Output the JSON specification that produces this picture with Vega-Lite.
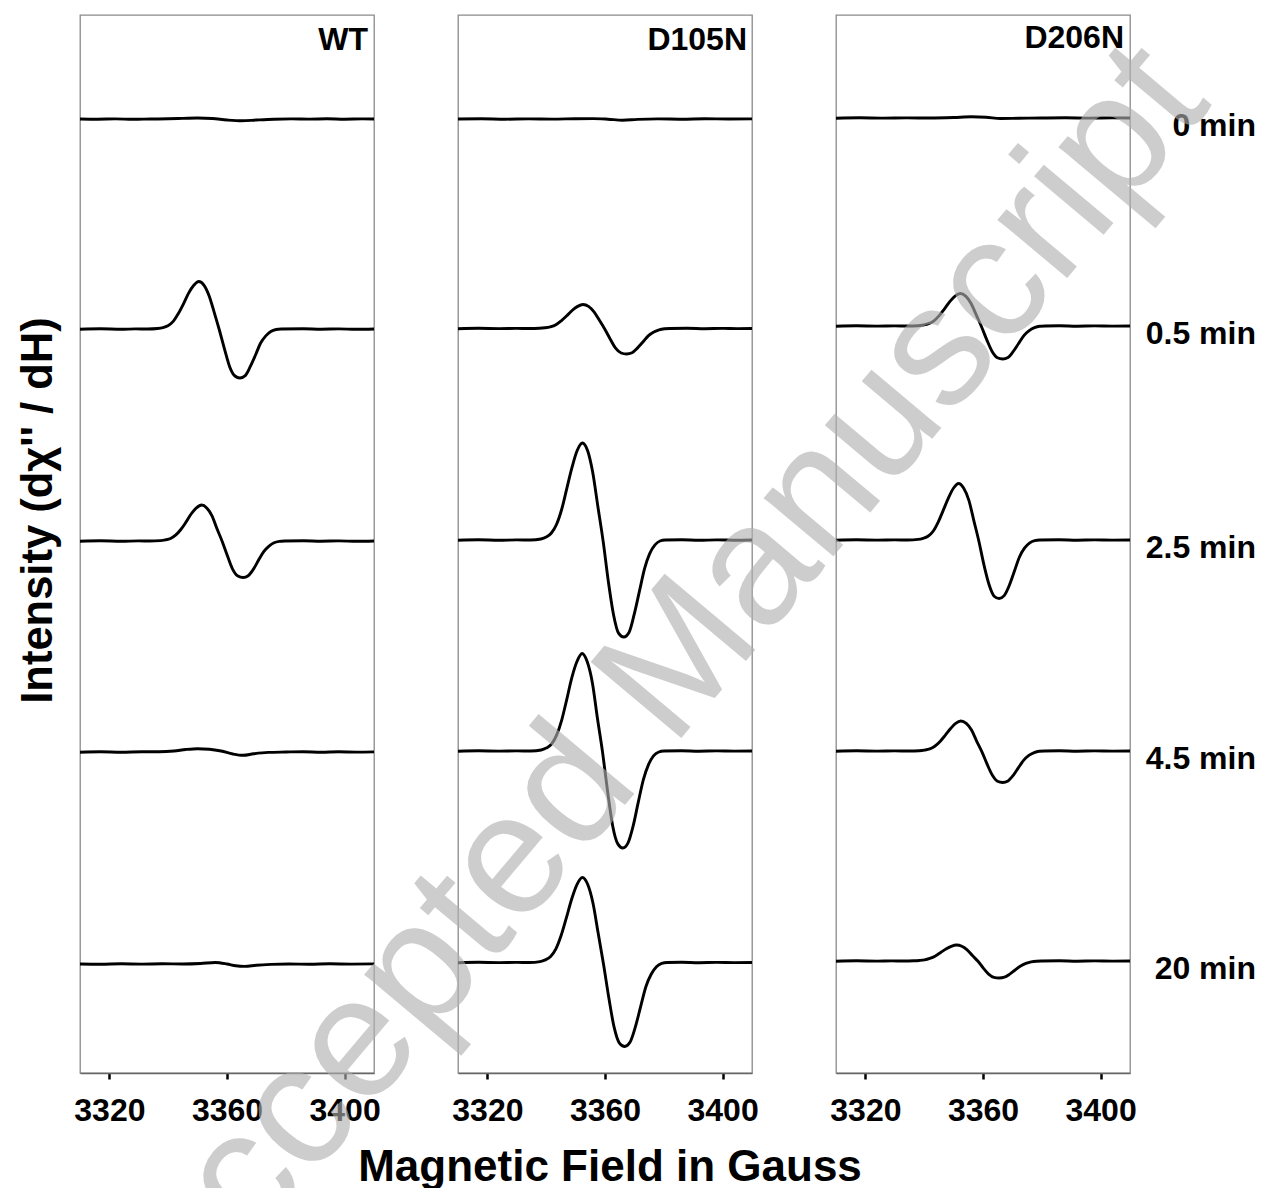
{
"$schema": "https://vega.github.io/schema/vega-lite/v6.json",
"padding": {"left": 15, "top": 14, "right": 5, "bottom": 5},
"bounds": "flush",
"spacing": 84,
"config": {
  "font": "Liberation Sans",
  "view": {"stroke": "#8a8a8a", "strokeWidth": 1.3},
  "axis": {"grid": false}
},
"datasets": {"spectra": [
{"sample":"WT","time":"0 min","field":3310,"intensity":95.40},{"sample":"WT","time":"0 min","field":3316,"intensity":95.38},{"sample":"WT","time":"0 min","field":3322,"intensity":95.41},{"sample":"WT","time":"0 min","field":3328,"intensity":95.37},{"sample":"WT","time":"0 min","field":3334,"intensity":95.40},{"sample":"WT","time":"0 min","field":3340,"intensity":95.42},{"sample":"WT","time":"0 min","field":3345,"intensity":95.46},{"sample":"WT","time":"0 min","field":3350,"intensity":95.50},{"sample":"WT","time":"0 min","field":3355,"intensity":95.45},{"sample":"WT","time":"0 min","field":3360,"intensity":95.30},{"sample":"WT","time":"0 min","field":3365,"intensity":95.22},{"sample":"WT","time":"0 min","field":3370,"intensity":95.30},{"sample":"WT","time":"0 min","field":3376,"intensity":95.38},{"sample":"WT","time":"0 min","field":3382,"intensity":95.41},{"sample":"WT","time":"0 min","field":3388,"intensity":95.39},{"sample":"WT","time":"0 min","field":3394,"intensity":95.42},{"sample":"WT","time":"0 min","field":3400,"intensity":95.38},{"sample":"WT","time":"0 min","field":3406,"intensity":95.41},{"sample":"WT","time":"0 min","field":3410,"intensity":95.40},
{"sample":"WT","time":"0.5 min","field":3310,"intensity":74.38},{"sample":"WT","time":"0.5 min","field":3317,"intensity":74.42},{"sample":"WT","time":"0.5 min","field":3324,"intensity":74.37},{"sample":"WT","time":"0.5 min","field":3329,"intensity":74.41},{"sample":"WT","time":"0.5 min","field":3332.9,"intensity":74.40},{"sample":"WT","time":"0.5 min","field":3336.4,"intensity":74.45},{"sample":"WT","time":"0.5 min","field":3338.2,"intensity":74.54},{"sample":"WT","time":"0.5 min","field":3339.9,"intensity":74.73},{"sample":"WT","time":"0.5 min","field":3341.7,"intensity":75.16},{"sample":"WT","time":"0.5 min","field":3343.4,"intensity":75.92},{"sample":"WT","time":"0.5 min","field":3345.2,"intensity":76.92},{"sample":"WT","time":"0.5 min","field":3346.9,"intensity":77.96},{"sample":"WT","time":"0.5 min","field":3348.7,"intensity":78.77},{"sample":"WT","time":"0.5 min","field":3350.4,"intensity":79.15},{"sample":"WT","time":"0.5 min","field":3352.2,"intensity":78.77},{"sample":"WT","time":"0.5 min","field":3353.9,"intensity":77.73},{"sample":"WT","time":"0.5 min","field":3355.7,"intensity":76.02},{"sample":"WT","time":"0.5 min","field":3357.4,"intensity":74.30},{"sample":"WT","time":"0.5 min","field":3359.2,"intensity":72.34},{"sample":"WT","time":"0.5 min","field":3360.9,"intensity":70.63},{"sample":"WT","time":"0.5 min","field":3362.7,"intensity":69.70},{"sample":"WT","time":"0.5 min","field":3364.4,"intensity":69.50},{"sample":"WT","time":"0.5 min","field":3366.2,"intensity":69.74},{"sample":"WT","time":"0.5 min","field":3367.9,"intensity":70.63},{"sample":"WT","time":"0.5 min","field":3369.7,"intensity":71.80},{"sample":"WT","time":"0.5 min","field":3371.4,"intensity":72.98},{"sample":"WT","time":"0.5 min","field":3373.2,"intensity":73.71},{"sample":"WT","time":"0.5 min","field":3374.9,"intensity":74.15},{"sample":"WT","time":"0.5 min","field":3376.7,"intensity":74.35},{"sample":"WT","time":"0.5 min","field":3378.4,"intensity":74.40},{"sample":"WT","time":"0.5 min","field":3386,"intensity":74.42},{"sample":"WT","time":"0.5 min","field":3392,"intensity":74.38},{"sample":"WT","time":"0.5 min","field":3398,"intensity":74.41},{"sample":"WT","time":"0.5 min","field":3404,"intensity":74.37},{"sample":"WT","time":"0.5 min","field":3410,"intensity":74.40},
{"sample":"WT","time":"2.5 min","field":3310,"intensity":53.18},{"sample":"WT","time":"2.5 min","field":3317,"intensity":53.22},{"sample":"WT","time":"2.5 min","field":3324,"intensity":53.17},{"sample":"WT","time":"2.5 min","field":3330,"intensity":53.21},{"sample":"WT","time":"2.5 min","field":3333.7,"intensity":53.20},{"sample":"WT","time":"2.5 min","field":3337.3,"intensity":53.24},{"sample":"WT","time":"2.5 min","field":3339.0,"intensity":53.31},{"sample":"WT","time":"2.5 min","field":3340.8,"intensity":53.45},{"sample":"WT","time":"2.5 min","field":3342.5,"intensity":53.78},{"sample":"WT","time":"2.5 min","field":3344.3,"intensity":54.35},{"sample":"WT","time":"2.5 min","field":3346.1,"intensity":55.11},{"sample":"WT","time":"2.5 min","field":3347.8,"intensity":55.90},{"sample":"WT","time":"2.5 min","field":3349.6,"intensity":56.51},{"sample":"WT","time":"2.5 min","field":3351.4,"intensity":56.80},{"sample":"WT","time":"2.5 min","field":3353.1,"intensity":56.51},{"sample":"WT","time":"2.5 min","field":3354.9,"intensity":55.72},{"sample":"WT","time":"2.5 min","field":3356.6,"intensity":54.42},{"sample":"WT","time":"2.5 min","field":3358.4,"intensity":53.13},{"sample":"WT","time":"2.5 min","field":3360.2,"intensity":51.67},{"sample":"WT","time":"2.5 min","field":3361.9,"intensity":50.39},{"sample":"WT","time":"2.5 min","field":3363.7,"intensity":49.70},{"sample":"WT","time":"2.5 min","field":3365.5,"intensity":49.55},{"sample":"WT","time":"2.5 min","field":3367.2,"intensity":49.73},{"sample":"WT","time":"2.5 min","field":3369.0,"intensity":50.39},{"sample":"WT","time":"2.5 min","field":3370.7,"intensity":51.27},{"sample":"WT","time":"2.5 min","field":3372.5,"intensity":52.14},{"sample":"WT","time":"2.5 min","field":3374.3,"intensity":52.69},{"sample":"WT","time":"2.5 min","field":3376.0,"intensity":53.02},{"sample":"WT","time":"2.5 min","field":3377.8,"intensity":53.16},{"sample":"WT","time":"2.5 min","field":3379.6,"intensity":53.20},{"sample":"WT","time":"2.5 min","field":3386,"intensity":53.22},{"sample":"WT","time":"2.5 min","field":3392,"intensity":53.18},{"sample":"WT","time":"2.5 min","field":3398,"intensity":53.21},{"sample":"WT","time":"2.5 min","field":3404,"intensity":53.17},{"sample":"WT","time":"2.5 min","field":3410,"intensity":53.20},
{"sample":"WT","time":"4.5 min","field":3310,"intensity":32.08},{"sample":"WT","time":"4.5 min","field":3317,"intensity":32.12},{"sample":"WT","time":"4.5 min","field":3324,"intensity":32.07},{"sample":"WT","time":"4.5 min","field":3331,"intensity":32.13},{"sample":"WT","time":"4.5 min","field":3337,"intensity":32.12},{"sample":"WT","time":"4.5 min","field":3342,"intensity":32.20},{"sample":"WT","time":"4.5 min","field":3346,"intensity":32.35},{"sample":"WT","time":"4.5 min","field":3350,"intensity":32.43},{"sample":"WT","time":"4.5 min","field":3354,"intensity":32.38},{"sample":"WT","time":"4.5 min","field":3358,"intensity":32.20},{"sample":"WT","time":"4.5 min","field":3362,"intensity":31.90},{"sample":"WT","time":"4.5 min","field":3365.5,"intensity":31.77},{"sample":"WT","time":"4.5 min","field":3369,"intensity":31.92},{"sample":"WT","time":"4.5 min","field":3374,"intensity":32.06},{"sample":"WT","time":"4.5 min","field":3380,"intensity":32.10},{"sample":"WT","time":"4.5 min","field":3386,"intensity":32.13},{"sample":"WT","time":"4.5 min","field":3392,"intensity":32.08},{"sample":"WT","time":"4.5 min","field":3398,"intensity":32.12},{"sample":"WT","time":"4.5 min","field":3404,"intensity":32.09},{"sample":"WT","time":"4.5 min","field":3410,"intensity":32.11},
{"sample":"WT","time":"20 min","field":3310,"intensity":10.90},{"sample":"WT","time":"20 min","field":3317,"intensity":10.88},{"sample":"WT","time":"20 min","field":3324,"intensity":10.92},{"sample":"WT","time":"20 min","field":3331,"intensity":10.89},{"sample":"WT","time":"20 min","field":3338,"intensity":10.92},{"sample":"WT","time":"20 min","field":3345,"intensity":10.90},{"sample":"WT","time":"20 min","field":3351,"intensity":10.95},{"sample":"WT","time":"20 min","field":3356,"intensity":11.05},{"sample":"WT","time":"20 min","field":3360,"intensity":10.90},{"sample":"WT","time":"20 min","field":3363,"intensity":10.72},{"sample":"WT","time":"20 min","field":3366,"intensity":10.66},{"sample":"WT","time":"20 min","field":3370,"intensity":10.78},{"sample":"WT","time":"20 min","field":3375,"intensity":10.86},{"sample":"WT","time":"20 min","field":3381,"intensity":10.90},{"sample":"WT","time":"20 min","field":3388,"intensity":10.88},{"sample":"WT","time":"20 min","field":3395,"intensity":10.92},{"sample":"WT","time":"20 min","field":3402,"intensity":10.89},{"sample":"WT","time":"20 min","field":3410,"intensity":10.91},
{"sample":"D105N","time":"0 min","field":3310,"intensity":95.40},{"sample":"D105N","time":"0 min","field":3318,"intensity":95.42},{"sample":"D105N","time":"0 min","field":3326,"intensity":95.38},{"sample":"D105N","time":"0 min","field":3334,"intensity":95.41},{"sample":"D105N","time":"0 min","field":3342,"intensity":95.39},{"sample":"D105N","time":"0 min","field":3350,"intensity":95.43},{"sample":"D105N","time":"0 min","field":3356,"intensity":95.44},{"sample":"D105N","time":"0 min","field":3361,"intensity":95.38},{"sample":"D105N","time":"0 min","field":3366,"intensity":95.28},{"sample":"D105N","time":"0 min","field":3371,"intensity":95.36},{"sample":"D105N","time":"0 min","field":3378,"intensity":95.41},{"sample":"D105N","time":"0 min","field":3386,"intensity":95.38},{"sample":"D105N","time":"0 min","field":3394,"intensity":95.42},{"sample":"D105N","time":"0 min","field":3402,"intensity":95.40},{"sample":"D105N","time":"0 min","field":3410,"intensity":95.41},
{"sample":"D105N","time":"0.5 min","field":3310,"intensity":74.43},{"sample":"D105N","time":"0.5 min","field":3317,"intensity":74.47},{"sample":"D105N","time":"0.5 min","field":3324,"intensity":74.44},{"sample":"D105N","time":"0.5 min","field":3330,"intensity":74.46},{"sample":"D105N","time":"0.5 min","field":3334.0,"intensity":74.45},{"sample":"D105N","time":"0.5 min","field":3337.7,"intensity":74.47},{"sample":"D105N","time":"0.5 min","field":3339.6,"intensity":74.52},{"sample":"D105N","time":"0.5 min","field":3341.4,"intensity":74.62},{"sample":"D105N","time":"0.5 min","field":3343.3,"intensity":74.83},{"sample":"D105N","time":"0.5 min","field":3345.1,"intensity":75.22},{"sample":"D105N","time":"0.5 min","field":3347.0,"intensity":75.72},{"sample":"D105N","time":"0.5 min","field":3348.8,"intensity":76.25},{"sample":"D105N","time":"0.5 min","field":3350.7,"intensity":76.66},{"sample":"D105N","time":"0.5 min","field":3352.5,"intensity":76.85},{"sample":"D105N","time":"0.5 min","field":3354.4,"intensity":76.66},{"sample":"D105N","time":"0.5 min","field":3356.2,"intensity":76.13},{"sample":"D105N","time":"0.5 min","field":3358.1,"intensity":75.27},{"sample":"D105N","time":"0.5 min","field":3359.9,"intensity":74.40},{"sample":"D105N","time":"0.5 min","field":3361.8,"intensity":73.38},{"sample":"D105N","time":"0.5 min","field":3363.6,"intensity":72.49},{"sample":"D105N","time":"0.5 min","field":3365.5,"intensity":72.00},{"sample":"D105N","time":"0.5 min","field":3367.3,"intensity":71.90},{"sample":"D105N","time":"0.5 min","field":3369.2,"intensity":72.03},{"sample":"D105N","time":"0.5 min","field":3371.0,"intensity":72.49},{"sample":"D105N","time":"0.5 min","field":3372.9,"intensity":73.10},{"sample":"D105N","time":"0.5 min","field":3374.7,"intensity":73.71},{"sample":"D105N","time":"0.5 min","field":3376.6,"intensity":74.09},{"sample":"D105N","time":"0.5 min","field":3378.4,"intensity":74.32},{"sample":"D105N","time":"0.5 min","field":3380.3,"intensity":74.42},{"sample":"D105N","time":"0.5 min","field":3382.1,"intensity":74.45},{"sample":"D105N","time":"0.5 min","field":3388,"intensity":74.47},{"sample":"D105N","time":"0.5 min","field":3394,"intensity":74.43},{"sample":"D105N","time":"0.5 min","field":3400,"intensity":74.46},{"sample":"D105N","time":"0.5 min","field":3405,"intensity":74.44},{"sample":"D105N","time":"0.5 min","field":3410,"intensity":74.45},
{"sample":"D105N","time":"2.5 min","field":3310,"intensity":53.28},{"sample":"D105N","time":"2.5 min","field":3317,"intensity":53.32},{"sample":"D105N","time":"2.5 min","field":3324,"intensity":53.27},{"sample":"D105N","time":"2.5 min","field":3330,"intensity":53.31},{"sample":"D105N","time":"2.5 min","field":3334.7,"intensity":53.30},{"sample":"D105N","time":"2.5 min","field":3338.2,"intensity":53.40},{"sample":"D105N","time":"2.5 min","field":3340.0,"intensity":53.59},{"sample":"D105N","time":"2.5 min","field":3341.7,"intensity":53.98},{"sample":"D105N","time":"2.5 min","field":3343.5,"intensity":54.85},{"sample":"D105N","time":"2.5 min","field":3345.3,"intensity":56.40},{"sample":"D105N","time":"2.5 min","field":3347.0,"intensity":58.44},{"sample":"D105N","time":"2.5 min","field":3348.8,"intensity":60.58},{"sample":"D105N","time":"2.5 min","field":3350.5,"intensity":62.22},{"sample":"D105N","time":"2.5 min","field":3352.3,"intensity":63.00},{"sample":"D105N","time":"2.5 min","field":3354.1,"intensity":62.22},{"sample":"D105N","time":"2.5 min","field":3355.8,"intensity":60.09},{"sample":"D105N","time":"2.5 min","field":3357.6,"intensity":56.60},{"sample":"D105N","time":"2.5 min","field":3359.4,"intensity":53.11},{"sample":"D105N","time":"2.5 min","field":3361.1,"intensity":49.23},{"sample":"D105N","time":"2.5 min","field":3362.9,"intensity":45.83},{"sample":"D105N","time":"2.5 min","field":3364.6,"intensity":43.99},{"sample":"D105N","time":"2.5 min","field":3366.4,"intensity":43.60},{"sample":"D105N","time":"2.5 min","field":3368.2,"intensity":44.08},{"sample":"D105N","time":"2.5 min","field":3369.9,"intensity":45.83},{"sample":"D105N","time":"2.5 min","field":3371.7,"intensity":48.16},{"sample":"D105N","time":"2.5 min","field":3373.5,"intensity":50.49},{"sample":"D105N","time":"2.5 min","field":3375.2,"intensity":51.94},{"sample":"D105N","time":"2.5 min","field":3377.0,"intensity":52.81},{"sample":"D105N","time":"2.5 min","field":3378.7,"intensity":53.20},{"sample":"D105N","time":"2.5 min","field":3380.5,"intensity":53.30},{"sample":"D105N","time":"2.5 min","field":3386,"intensity":53.32},{"sample":"D105N","time":"2.5 min","field":3392,"intensity":53.27},{"sample":"D105N","time":"2.5 min","field":3398,"intensity":53.31},{"sample":"D105N","time":"2.5 min","field":3404,"intensity":53.28},{"sample":"D105N","time":"2.5 min","field":3410,"intensity":53.30},
{"sample":"D105N","time":"4.5 min","field":3310,"intensity":32.18},{"sample":"D105N","time":"4.5 min","field":3317,"intensity":32.22},{"sample":"D105N","time":"4.5 min","field":3324,"intensity":32.19},{"sample":"D105N","time":"4.5 min","field":3330,"intensity":32.21},{"sample":"D105N","time":"4.5 min","field":3334.8,"intensity":32.20},{"sample":"D105N","time":"4.5 min","field":3338.3,"intensity":32.30},{"sample":"D105N","time":"4.5 min","field":3340.0,"intensity":32.49},{"sample":"D105N","time":"4.5 min","field":3341.8,"intensity":32.88},{"sample":"D105N","time":"4.5 min","field":3343.5,"intensity":33.76},{"sample":"D105N","time":"4.5 min","field":3345.3,"intensity":35.32},{"sample":"D105N","time":"4.5 min","field":3347.0,"intensity":37.37},{"sample":"D105N","time":"4.5 min","field":3348.7,"intensity":39.51},{"sample":"D105N","time":"4.5 min","field":3350.5,"intensity":41.17},{"sample":"D105N","time":"4.5 min","field":3352.2,"intensity":41.95},{"sample":"D105N","time":"4.5 min","field":3353.9,"intensity":41.17},{"sample":"D105N","time":"4.5 min","field":3355.7,"intensity":39.03},{"sample":"D105N","time":"4.5 min","field":3357.4,"intensity":35.52},{"sample":"D105N","time":"4.5 min","field":3359.2,"intensity":32.01},{"sample":"D105N","time":"4.5 min","field":3360.9,"intensity":28.13},{"sample":"D105N","time":"4.5 min","field":3362.6,"intensity":24.73},{"sample":"D105N","time":"4.5 min","field":3364.4,"intensity":22.89},{"sample":"D105N","time":"4.5 min","field":3366.1,"intensity":22.50},{"sample":"D105N","time":"4.5 min","field":3367.8,"intensity":22.98},{"sample":"D105N","time":"4.5 min","field":3369.6,"intensity":24.73},{"sample":"D105N","time":"4.5 min","field":3371.3,"intensity":27.06},{"sample":"D105N","time":"4.5 min","field":3373.1,"intensity":29.39},{"sample":"D105N","time":"4.5 min","field":3374.8,"intensity":30.84},{"sample":"D105N","time":"4.5 min","field":3376.5,"intensity":31.71},{"sample":"D105N","time":"4.5 min","field":3378.3,"intensity":32.10},{"sample":"D105N","time":"4.5 min","field":3380.0,"intensity":32.20},{"sample":"D105N","time":"4.5 min","field":3386,"intensity":32.22},{"sample":"D105N","time":"4.5 min","field":3392,"intensity":32.18},{"sample":"D105N","time":"4.5 min","field":3398,"intensity":32.21},{"sample":"D105N","time":"4.5 min","field":3404,"intensity":32.19},{"sample":"D105N","time":"4.5 min","field":3410,"intensity":32.20},
{"sample":"D105N","time":"20 min","field":3310,"intensity":11.03},{"sample":"D105N","time":"20 min","field":3317,"intensity":11.07},{"sample":"D105N","time":"20 min","field":3324,"intensity":11.04},{"sample":"D105N","time":"20 min","field":3330,"intensity":11.06},{"sample":"D105N","time":"20 min","field":3334.3,"intensity":11.05},{"sample":"D105N","time":"20 min","field":3337.9,"intensity":11.14},{"sample":"D105N","time":"20 min","field":3339.7,"intensity":11.31},{"sample":"D105N","time":"20 min","field":3341.5,"intensity":11.65},{"sample":"D105N","time":"20 min","field":3343.3,"intensity":12.41},{"sample":"D105N","time":"20 min","field":3345.1,"intensity":13.77},{"sample":"D105N","time":"20 min","field":3346.9,"intensity":15.56},{"sample":"D105N","time":"20 min","field":3348.7,"intensity":17.43},{"sample":"D105N","time":"20 min","field":3350.5,"intensity":18.87},{"sample":"D105N","time":"20 min","field":3352.3,"intensity":19.55},{"sample":"D105N","time":"20 min","field":3354.1,"intensity":18.87},{"sample":"D105N","time":"20 min","field":3355.9,"intensity":17.00},{"sample":"D105N","time":"20 min","field":3357.7,"intensity":13.94},{"sample":"D105N","time":"20 min","field":3359.5,"intensity":10.88},{"sample":"D105N","time":"20 min","field":3361.3,"intensity":7.52},{"sample":"D105N","time":"20 min","field":3363.1,"intensity":4.58},{"sample":"D105N","time":"20 min","field":3364.9,"intensity":2.99},{"sample":"D105N","time":"20 min","field":3366.7,"intensity":2.65},{"sample":"D105N","time":"20 min","field":3368.5,"intensity":3.07},{"sample":"D105N","time":"20 min","field":3370.3,"intensity":4.58},{"sample":"D105N","time":"20 min","field":3372.1,"intensity":6.61},{"sample":"D105N","time":"20 min","field":3373.9,"intensity":8.63},{"sample":"D105N","time":"20 min","field":3375.7,"intensity":9.87},{"sample":"D105N","time":"20 min","field":3377.5,"intensity":10.63},{"sample":"D105N","time":"20 min","field":3379.3,"intensity":10.97},{"sample":"D105N","time":"20 min","field":3381.1,"intensity":11.05},{"sample":"D105N","time":"20 min","field":3386,"intensity":11.07},{"sample":"D105N","time":"20 min","field":3392,"intensity":11.03},{"sample":"D105N","time":"20 min","field":3398,"intensity":11.06},{"sample":"D105N","time":"20 min","field":3404,"intensity":11.04},{"sample":"D105N","time":"20 min","field":3410,"intensity":11.05},
{"sample":"D206N","time":"0 min","field":3310,"intensity":95.48},{"sample":"D206N","time":"0 min","field":3318,"intensity":95.52},{"sample":"D206N","time":"0 min","field":3326,"intensity":95.49},{"sample":"D206N","time":"0 min","field":3334,"intensity":95.51},{"sample":"D206N","time":"0 min","field":3342,"intensity":95.50},{"sample":"D206N","time":"0 min","field":3350,"intensity":95.55},{"sample":"D206N","time":"0 min","field":3356,"intensity":95.62},{"sample":"D206N","time":"0 min","field":3361,"intensity":95.58},{"sample":"D206N","time":"0 min","field":3366,"intensity":95.45},{"sample":"D206N","time":"0 min","field":3372,"intensity":95.47},{"sample":"D206N","time":"0 min","field":3380,"intensity":95.50},{"sample":"D206N","time":"0 min","field":3388,"intensity":95.52},{"sample":"D206N","time":"0 min","field":3396,"intensity":95.49},{"sample":"D206N","time":"0 min","field":3404,"intensity":95.51},{"sample":"D206N","time":"0 min","field":3410,"intensity":95.50},
{"sample":"D206N","time":"0.5 min","field":3310,"intensity":74.68},{"sample":"D206N","time":"0.5 min","field":3317,"intensity":74.72},{"sample":"D206N","time":"0.5 min","field":3324,"intensity":74.69},{"sample":"D206N","time":"0.5 min","field":3330,"intensity":74.71},{"sample":"D206N","time":"0.5 min","field":3334.3,"intensity":74.70},{"sample":"D206N","time":"0.5 min","field":3337.9,"intensity":74.73},{"sample":"D206N","time":"0.5 min","field":3339.7,"intensity":74.80},{"sample":"D206N","time":"0.5 min","field":3341.5,"intensity":74.93},{"sample":"D206N","time":"0.5 min","field":3343.3,"intensity":75.22},{"sample":"D206N","time":"0.5 min","field":3345.1,"intensity":75.74},{"sample":"D206N","time":"0.5 min","field":3346.9,"intensity":76.42},{"sample":"D206N","time":"0.5 min","field":3348.7,"intensity":77.14},{"sample":"D206N","time":"0.5 min","field":3350.5,"intensity":77.69},{"sample":"D206N","time":"0.5 min","field":3352.3,"intensity":77.95},{"sample":"D206N","time":"0.5 min","field":3354.1,"intensity":77.69},{"sample":"D206N","time":"0.5 min","field":3355.9,"intensity":76.98},{"sample":"D206N","time":"0.5 min","field":3357.7,"intensity":75.81},{"sample":"D206N","time":"0.5 min","field":3359.5,"intensity":74.63},{"sample":"D206N","time":"0.5 min","field":3361.3,"intensity":73.31},{"sample":"D206N","time":"0.5 min","field":3363.1,"intensity":72.16},{"sample":"D206N","time":"0.5 min","field":3364.9,"intensity":71.53},{"sample":"D206N","time":"0.5 min","field":3366.7,"intensity":71.40},{"sample":"D206N","time":"0.5 min","field":3368.5,"intensity":71.56},{"sample":"D206N","time":"0.5 min","field":3370.3,"intensity":72.16},{"sample":"D206N","time":"0.5 min","field":3372.1,"intensity":72.95},{"sample":"D206N","time":"0.5 min","field":3373.9,"intensity":73.74},{"sample":"D206N","time":"0.5 min","field":3375.7,"intensity":74.24},{"sample":"D206N","time":"0.5 min","field":3377.5,"intensity":74.53},{"sample":"D206N","time":"0.5 min","field":3379.3,"intensity":74.67},{"sample":"D206N","time":"0.5 min","field":3381.1,"intensity":74.70},{"sample":"D206N","time":"0.5 min","field":3386,"intensity":74.72},{"sample":"D206N","time":"0.5 min","field":3392,"intensity":74.68},{"sample":"D206N","time":"0.5 min","field":3398,"intensity":74.71},{"sample":"D206N","time":"0.5 min","field":3404,"intensity":74.69},{"sample":"D206N","time":"0.5 min","field":3410,"intensity":74.70},
{"sample":"D206N","time":"2.5 min","field":3310,"intensity":53.28},{"sample":"D206N","time":"2.5 min","field":3317,"intensity":53.32},{"sample":"D206N","time":"2.5 min","field":3324,"intensity":53.29},{"sample":"D206N","time":"2.5 min","field":3330,"intensity":53.31},{"sample":"D206N","time":"2.5 min","field":3334.5,"intensity":53.30},{"sample":"D206N","time":"2.5 min","field":3337.9,"intensity":53.36},{"sample":"D206N","time":"2.5 min","field":3339.6,"intensity":53.47},{"sample":"D206N","time":"2.5 min","field":3341.4,"intensity":53.70},{"sample":"D206N","time":"2.5 min","field":3343.1,"intensity":54.20},{"sample":"D206N","time":"2.5 min","field":3344.8,"intensity":55.11},{"sample":"D206N","time":"2.5 min","field":3346.5,"intensity":56.29},{"sample":"D206N","time":"2.5 min","field":3348.3,"intensity":57.54},{"sample":"D206N","time":"2.5 min","field":3350.0,"intensity":58.50},{"sample":"D206N","time":"2.5 min","field":3351.7,"intensity":58.95},{"sample":"D206N","time":"2.5 min","field":3353.4,"intensity":58.50},{"sample":"D206N","time":"2.5 min","field":3355.2,"intensity":57.26},{"sample":"D206N","time":"2.5 min","field":3356.9,"intensity":55.22},{"sample":"D206N","time":"2.5 min","field":3358.6,"intensity":53.18},{"sample":"D206N","time":"2.5 min","field":3360.3,"intensity":50.84},{"sample":"D206N","time":"2.5 min","field":3362.1,"intensity":48.80},{"sample":"D206N","time":"2.5 min","field":3363.8,"intensity":47.68},{"sample":"D206N","time":"2.5 min","field":3365.5,"intensity":47.45},{"sample":"D206N","time":"2.5 min","field":3367.2,"intensity":47.74},{"sample":"D206N","time":"2.5 min","field":3369.0,"intensity":48.80},{"sample":"D206N","time":"2.5 min","field":3370.7,"intensity":50.20},{"sample":"D206N","time":"2.5 min","field":3372.4,"intensity":51.60},{"sample":"D206N","time":"2.5 min","field":3374.1,"intensity":52.48},{"sample":"D206N","time":"2.5 min","field":3375.9,"intensity":53.01},{"sample":"D206N","time":"2.5 min","field":3377.6,"intensity":53.24},{"sample":"D206N","time":"2.5 min","field":3379.3,"intensity":53.30},{"sample":"D206N","time":"2.5 min","field":3386,"intensity":53.32},{"sample":"D206N","time":"2.5 min","field":3392,"intensity":53.28},{"sample":"D206N","time":"2.5 min","field":3398,"intensity":53.31},{"sample":"D206N","time":"2.5 min","field":3404,"intensity":53.29},{"sample":"D206N","time":"2.5 min","field":3410,"intensity":53.30},
{"sample":"D206N","time":"4.5 min","field":3310,"intensity":32.18},{"sample":"D206N","time":"4.5 min","field":3317,"intensity":32.22},{"sample":"D206N","time":"4.5 min","field":3324,"intensity":32.19},{"sample":"D206N","time":"4.5 min","field":3330,"intensity":32.21},{"sample":"D206N","time":"4.5 min","field":3334.8,"intensity":32.20},{"sample":"D206N","time":"4.5 min","field":3338.3,"intensity":32.23},{"sample":"D206N","time":"4.5 min","field":3340.1,"intensity":32.29},{"sample":"D206N","time":"4.5 min","field":3341.9,"intensity":32.41},{"sample":"D206N","time":"4.5 min","field":3343.6,"intensity":32.68},{"sample":"D206N","time":"4.5 min","field":3345.4,"intensity":33.16},{"sample":"D206N","time":"4.5 min","field":3347.2,"intensity":33.79},{"sample":"D206N","time":"4.5 min","field":3349.0,"intensity":34.45},{"sample":"D206N","time":"4.5 min","field":3350.7,"intensity":34.96},{"sample":"D206N","time":"4.5 min","field":3352.5,"intensity":35.20},{"sample":"D206N","time":"4.5 min","field":3354.3,"intensity":34.96},{"sample":"D206N","time":"4.5 min","field":3356.1,"intensity":34.30},{"sample":"D206N","time":"4.5 min","field":3357.8,"intensity":33.22},{"sample":"D206N","time":"4.5 min","field":3359.6,"intensity":32.14},{"sample":"D206N","time":"4.5 min","field":3361.4,"intensity":30.88},{"sample":"D206N","time":"4.5 min","field":3363.2,"intensity":29.77},{"sample":"D206N","time":"4.5 min","field":3364.9,"intensity":29.18},{"sample":"D206N","time":"4.5 min","field":3366.7,"intensity":29.05},{"sample":"D206N","time":"4.5 min","field":3368.5,"intensity":29.21},{"sample":"D206N","time":"4.5 min","field":3370.3,"intensity":29.77},{"sample":"D206N","time":"4.5 min","field":3372.0,"intensity":30.51},{"sample":"D206N","time":"4.5 min","field":3373.8,"intensity":31.26},{"sample":"D206N","time":"4.5 min","field":3375.6,"intensity":31.76},{"sample":"D206N","time":"4.5 min","field":3377.4,"intensity":32.04},{"sample":"D206N","time":"4.5 min","field":3379.1,"intensity":32.17},{"sample":"D206N","time":"4.5 min","field":3380.9,"intensity":32.20},{"sample":"D206N","time":"4.5 min","field":3386,"intensity":32.22},{"sample":"D206N","time":"4.5 min","field":3392,"intensity":32.18},{"sample":"D206N","time":"4.5 min","field":3398,"intensity":32.21},{"sample":"D206N","time":"4.5 min","field":3404,"intensity":32.19},{"sample":"D206N","time":"4.5 min","field":3410,"intensity":32.20},
{"sample":"D206N","time":"20 min","field":3310,"intensity":11.18},{"sample":"D206N","time":"20 min","field":3317,"intensity":11.22},{"sample":"D206N","time":"20 min","field":3324,"intensity":11.19},{"sample":"D206N","time":"20 min","field":3329,"intensity":11.21},{"sample":"D206N","time":"20 min","field":3332.9,"intensity":11.20},{"sample":"D206N","time":"20 min","field":3336.5,"intensity":11.22},{"sample":"D206N","time":"20 min","field":3338.3,"intensity":11.25},{"sample":"D206N","time":"20 min","field":3340.1,"intensity":11.31},{"sample":"D206N","time":"20 min","field":3341.9,"intensity":11.46},{"sample":"D206N","time":"20 min","field":3343.8,"intensity":11.71},{"sample":"D206N","time":"20 min","field":3345.6,"intensity":12.05},{"sample":"D206N","time":"20 min","field":3347.4,"intensity":12.40},{"sample":"D206N","time":"20 min","field":3349.2,"intensity":12.67},{"sample":"D206N","time":"20 min","field":3351.0,"intensity":12.80},{"sample":"D206N","time":"20 min","field":3352.8,"intensity":12.67},{"sample":"D206N","time":"20 min","field":3354.6,"intensity":12.32},{"sample":"D206N","time":"20 min","field":3356.4,"intensity":11.74},{"sample":"D206N","time":"20 min","field":3358.3,"intensity":11.17},{"sample":"D206N","time":"20 min","field":3360.1,"intensity":10.49},{"sample":"D206N","time":"20 min","field":3361.9,"intensity":9.89},{"sample":"D206N","time":"20 min","field":3363.7,"intensity":9.57},{"sample":"D206N","time":"20 min","field":3365.5,"intensity":9.50},{"sample":"D206N","time":"20 min","field":3367.3,"intensity":9.58},{"sample":"D206N","time":"20 min","field":3369.1,"intensity":9.89},{"sample":"D206N","time":"20 min","field":3370.9,"intensity":10.30},{"sample":"D206N","time":"20 min","field":3372.8,"intensity":10.71},{"sample":"D206N","time":"20 min","field":3374.6,"intensity":10.96},{"sample":"D206N","time":"20 min","field":3376.4,"intensity":11.11},{"sample":"D206N","time":"20 min","field":3378.2,"intensity":11.18},{"sample":"D206N","time":"20 min","field":3380.0,"intensity":11.20},{"sample":"D206N","time":"20 min","field":3386,"intensity":11.22},{"sample":"D206N","time":"20 min","field":3392,"intensity":11.18},{"sample":"D206N","time":"20 min","field":3398,"intensity":11.21},{"sample":"D206N","time":"20 min","field":3404,"intensity":11.19},{"sample":"D206N","time":"20 min","field":3410,"intensity":11.20}
]},
"hconcat": [
{
  "width": 294, "height": 1058,
  "data": {"name": "spectra"},
  "layer": [
    {"transform": [{"filter": "datum.sample === 'WT'"}],
     "mark": {"type": "line", "color": "black", "strokeWidth": 2.9, "interpolate": "monotone"},
     "encoding": {
       "x": {"field": "field", "type": "quantitative", "scale": {"domain": [3310, 3410], "nice": false, "zero": false},
             "axis": {"values": [3320, 3360, 3400], "format": "d", "title": null, "labelFontSize": 32, "labelFontWeight": "bold", "labelColor": "black", "labelPadding": 16, "labelFlush": false, "labelOverlap": false, "tickColor": "black", "tickWidth": 2.5, "tickSize": 6, "domainColor": "#666666", "domainWidth": 1.5}},
       "y": {"field": "intensity", "type": "quantitative", "scale": {"domain": [0, 105.8], "nice": false, "zero": false},
             "axis": {"title": "Intensity (dχ'' / dH)", "labels": false, "ticks": false, "domain": false, "titleFontSize": 43.5, "titleFontWeight": "bold", "titleColor": "black", "titleX": -41.5, "titleY": 495, "titleBaseline": "middle", "titleAlign": "center"}},
       "detail": {"field": "time", "type": "nominal"}
     }},
    {"data": {"values": [{"panel": "WT"}]},
     "mark": {"type": "text", "align": "right", "baseline": "alphabetic", "dx": -6, "dy": 35, "fontSize": 32, "fontWeight": "bold", "color": "black"},
     "encoding": {
       "x": {"datum": 3410, "type": "quantitative", "scale": {"domain": [3310, 3410], "nice": false, "zero": false}},
       "y": {"datum": 105.8, "type": "quantitative", "scale": {"domain": [0, 105.8], "nice": false, "zero": false}},
       "text": {"field": "panel", "type": "nominal"}
     }}
  ]
},
{
  "width": 294, "height": 1058,
  "data": {"name": "spectra"},
  "layer": [
    {"transform": [{"filter": "datum.sample === 'D105N'"}],
     "mark": {"type": "line", "color": "black", "strokeWidth": 2.9, "interpolate": "monotone"},
     "encoding": {
       "x": {"field": "field", "type": "quantitative", "scale": {"domain": [3310, 3410], "nice": false, "zero": false},
             "axis": {"values": [3320, 3360, 3400], "format": "d", "title": "Magnetic Field in Gauss", "titleFontSize": 44, "titleFontWeight": "bold", "titleColor": "black", "titleX": 151.5, "titleY": 107, "titleBaseline": "alphabetic", "titleAlign": "center", "labelFontSize": 32, "labelFontWeight": "bold", "labelColor": "black", "labelPadding": 16, "labelFlush": false, "labelOverlap": false, "tickColor": "black", "tickWidth": 2.5, "tickSize": 6, "domainColor": "#666666", "domainWidth": 1.5}},
       "y": {"field": "intensity", "type": "quantitative", "scale": {"domain": [0, 105.8], "nice": false, "zero": false}, "axis": null},
       "detail": {"field": "time", "type": "nominal"}
     }},
    {"data": {"values": [{"panel": "D105N"}]},
     "mark": {"type": "text", "align": "right", "baseline": "alphabetic", "dx": -5, "dy": 35, "fontSize": 32, "fontWeight": "bold", "color": "black"},
     "encoding": {
       "x": {"datum": 3410, "type": "quantitative", "scale": {"domain": [3310, 3410], "nice": false, "zero": false}},
       "y": {"datum": 105.8, "type": "quantitative", "scale": {"domain": [0, 105.8], "nice": false, "zero": false}},
       "text": {"field": "panel", "type": "nominal"}
     }}
  ]
},
{
  "width": 294, "height": 1058,
  "data": {"name": "spectra"},
  "layer": [
    {"transform": [{"filter": "datum.sample === 'D206N'"}],
     "mark": {"type": "line", "color": "black", "strokeWidth": 2.9, "interpolate": "monotone"},
     "encoding": {
       "x": {"field": "field", "type": "quantitative", "scale": {"domain": [3310, 3410], "nice": false, "zero": false},
             "axis": {"values": [3320, 3360, 3400], "format": "d", "title": null, "labelFontSize": 32, "labelFontWeight": "bold", "labelColor": "black", "labelPadding": 16, "labelFlush": false, "labelOverlap": false, "tickColor": "black", "tickWidth": 2.5, "tickSize": 6, "domainColor": "#666666", "domainWidth": 1.5}},
       "y": {"field": "intensity", "type": "quantitative", "scale": {"domain": [0, 105.8], "nice": false, "zero": false}, "axis": null},
       "detail": {"field": "time", "type": "nominal"}
     }},
    {"data": {"values": [{"panel": "D206N"}]},
     "mark": {"type": "text", "align": "right", "baseline": "alphabetic", "dx": -6, "dy": 33, "fontSize": 32, "fontWeight": "bold", "color": "black"},
     "encoding": {
       "x": {"datum": 3410, "type": "quantitative", "scale": {"domain": [3310, 3410], "nice": false, "zero": false}},
       "y": {"datum": 105.8, "type": "quantitative", "scale": {"domain": [0, 105.8], "nice": false, "zero": false}},
       "text": {"field": "panel", "type": "nominal"}
     }},
    {"transform": [{"filter": "datum.sample === 'D206N' && datum.field === 3410"}],
     "mark": {"type": "text", "align": "right", "baseline": "middle", "dx": 126, "dy": 8, "fontSize": 32, "fontWeight": "bold", "color": "black"},
     "encoding": {
       "x": {"field": "field", "type": "quantitative", "scale": {"domain": [3310, 3410], "nice": false, "zero": false}},
       "y": {"field": "intensity", "type": "quantitative", "scale": {"domain": [0, 105.8], "nice": false, "zero": false}},
       "text": {"field": "time", "type": "nominal"}
     }},
    {"data": {"values": [{"label": "Accepted Manuscript"}]},
     "mark": {"type": "text", "angle": -50, "fontSize": 172, "font": "Liberation Sans", "fontWeight": "normal", "color": "#b0b0b0", "opacity": 0.62, "align": "center", "baseline": "middle"},
     "encoding": {
       "x": {"datum": 3249.1, "type": "quantitative", "scale": {"domain": [3310, 3410], "nice": false, "zero": false}},
       "y": {"datum": 38.7, "type": "quantitative", "scale": {"domain": [0, 105.8], "nice": false, "zero": false}},
       "text": {"field": "label", "type": "nominal"}
     }}
  ]
}
]
}
